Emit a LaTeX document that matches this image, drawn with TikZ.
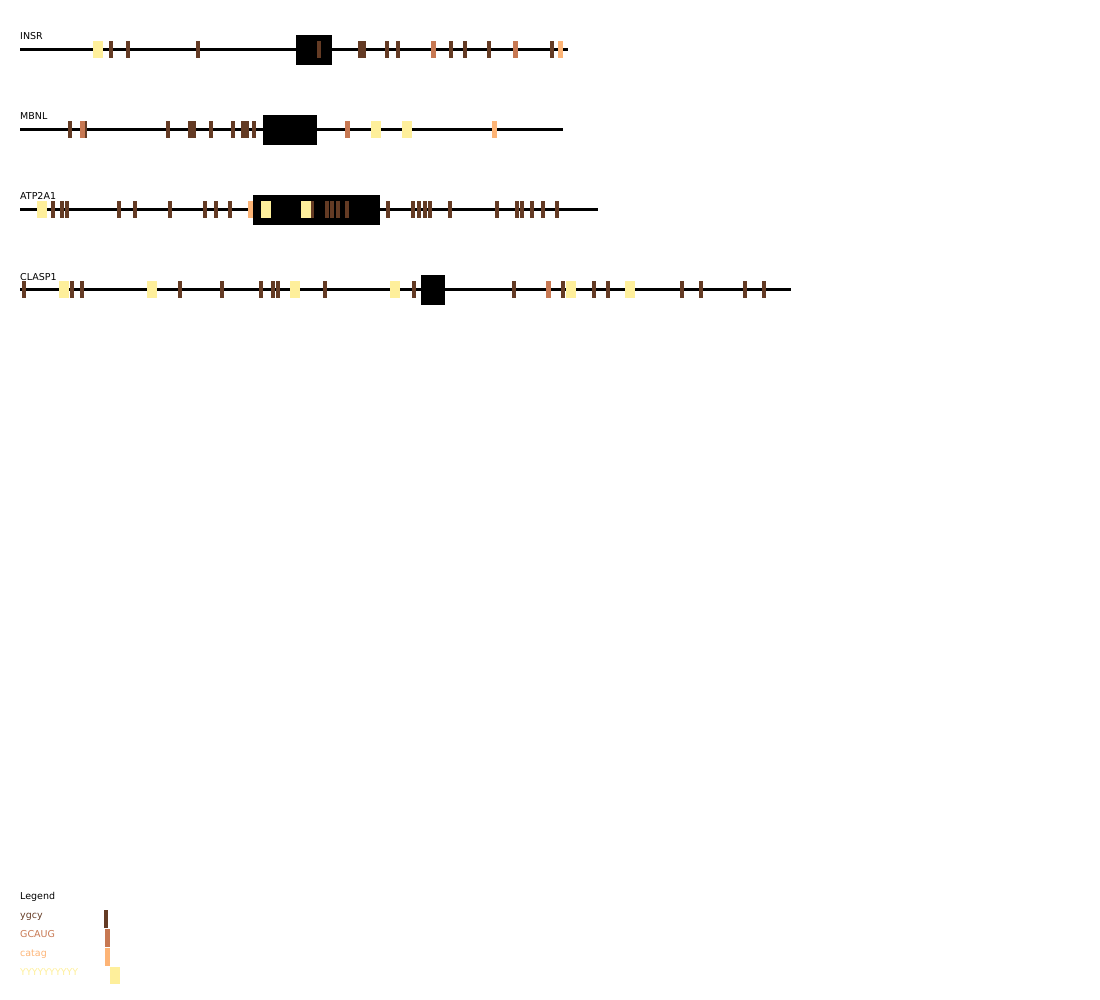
\documentclass[tikz,border=0pt]{standalone}
\usepackage{fontspec}
\setmainfont{DejaVu Sans}
\definecolor{ygcycol}{HTML}{643B24}
\definecolor{gcaugcol}{HTML}{C77852}
\definecolor{catagcol}{HTML}{FDB476}
\definecolor{yyycol}{HTML}{FEEF9B}
\tikzset{
  gene/.style={line width=3pt},
  intron/.style={fill=black},
  ygcy/.style={fill=ygcycol},
  gcaug/.style={fill=gcaugcol},
  catag/.style={fill=catagcol},
  yyy/.style={fill=yyycol},
  lbl/.style={anchor=base west, inner sep=0pt, font=\fontsize{9.5}{11}\selectfont},
}
% motif bars on one gene: style, row y, list of x1/x2
\newcommand{\motifs}[3]{\foreach \a/\b in {#3} \fill[#1] (\a,#2-8.5) rectangle (\b,#2+8.5);}
\begin{document}
\begin{tikzpicture}[x=1pt,y=-1pt]
            \useasboundingbox (0,0) rectangle (1100,1000);
            % INSR
            \node[lbl] (insr) at (20,40) {INSR};
            \coordinate (insrS) at (20,50);
            \coordinate (insrE) at (568,50);
            \draw[gene] (insrS) -- (insrE);
            \fill[intron] (296,35) rectangle (332,65);
            \motifs{yyy}{50}{93/103}
            \motifs{ygcy}{50}{109/113,126/130,196/200,317/321,358/366,385/389,396/400,449/453,463/467,487/491,550/554}
            \motifs{gcaug}{50}{431/436,513/518}
            \motifs{catag}{50}{558/563}
            % MBNL
            \node[lbl] (mbnl) at (20,120) {MBNL};
            \coordinate (mbnlS) at (20,130);
            \coordinate (mbnlE) at (563,130);
            \draw[gene] (mbnlS) -- (mbnlE);
            \fill[intron] (263,115) rectangle (317,145);
            \motifs{ygcy}{130}{68/72,85/87,166/170,188/196,209/213,231/235,241/249,252/256}
            \motifs{gcaug}{130}{80/85,345/350}
            \motifs{yyy}{130}{371/381,402/412}
            \motifs{catag}{130}{492/497}
            % ATP2A1
            \node[lbl] (atp) at (20,200) {ATP2A1};
            \coordinate (atpS) at (20,210);
            \coordinate (atpE) at (598,210);
            \draw[gene] (atpS) -- (atpE);
            \fill[intron] (253,195) rectangle (380,225);
            \motifs{yyy}{210}{37/47,261/271,301/311}
            \motifs{ygcy}{210}{51/55,60/64,65/69,117/121,133/137,168/172,203/207,214/218,228/232,311/314,325/329,330/334,336/340,345/349,386/390,411/415,417/421,423/427,428/432,448/452,495/499,515/519,520/524,530/534,541/545,555/559}
            \motifs{catag}{210}{248/253}
            % CLASP1
            \node[lbl] (clasp) at (20,280) {CLASP1};
            \coordinate (claspS) at (20,290);
            \coordinate (claspE) at (791,290);
            \draw[gene] (claspS) -- (claspE);
            \fill[intron] (421,275) rectangle (445,305);
            \motifs{ygcy}{290}{22/26,70/74,80/84,178/182,220/224,259/263,271/275,276/280,323/327,412/416,512/516,561/565,592/596,606/610,680/684,699/703,743/747,762/766}
            \motifs{yyy}{290}{59/69,147/157,290/300,390/400,566/576,625/635}
            \motifs{gcaug}{290}{546/551}
            % Legend
            \node[lbl] (legend) at (20,899) {Legend};
            \node[lbl, text=ygcycol] (lygcy) at (20,918) {ygcy};
            \node[lbl, text=gcaugcol] (lgcaug) at (20,937) {GCAUG};
            \node[lbl, text=catagcol] (lcatag) at (20,956) {catag};
            \node[lbl, text=yyycol] (lyyy) at (20,975) {YYYYYYYYYY};
            \fill[ygcy] (104,910) rectangle (108,928);
            \fill[gcaug] (105,929) rectangle (110,947);
            \fill[catag] (105,948) rectangle (110,966);
            \fill[yyy] (110,967) rectangle (120,984);
\end{tikzpicture}
\end{document}
